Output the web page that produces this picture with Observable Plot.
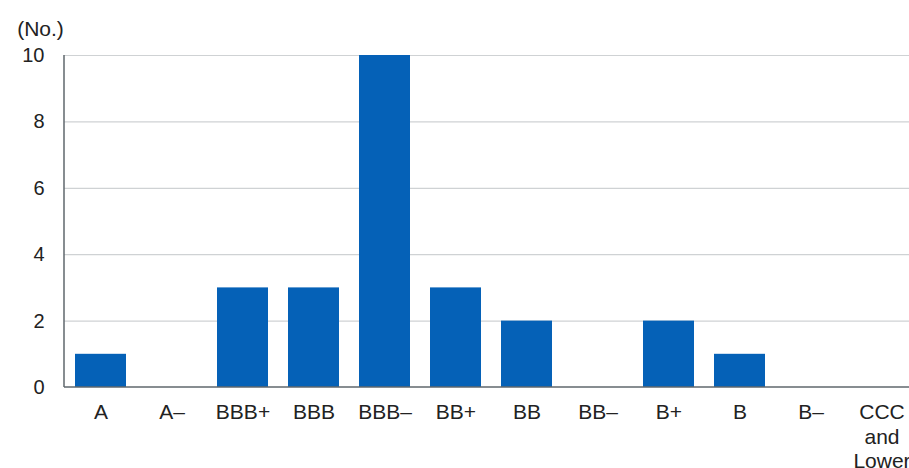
<!DOCTYPE html>
<html>
<head>
<meta charset="utf-8">
<script src="https://cdn.jsdelivr.net/npm/d3@7"></script>
<script src="https://cdn.jsdelivr.net/npm/@observablehq/plot@0.6"></script>
<style>
  html, body { margin: 0; padding: 0; background: #fff; overflow: hidden; }
  #chart svg { overflow: visible; display: block; }
</style>
</head>
<body>
<div id="chart"></div>
<script>
// Number of issuers by credit rating
const ratings = ["A", "A\u2013", "BBB+", "BBB", "BBB\u2013", "BB+", "BB", "BB\u2013", "B+", "B", "B\u2013", "CCC\nand\nLower"];
const counts  = [1, 0, 3, 3, 10, 3, 2, 0, 2, 1, 0, 0];
const yTicks  = [0, 2, 4, 6, 8, 10];
const unitLabel = ["(No.)"];

const rows = ratings.map((rating, i) => ({rating, count: counts[i]}));

const W = 909, H = 468;
const mLeft = 64, mTop = 55, mBottom = 81;

// Left and bottom axis lines, drawn from the frame dimensions
const axisLines = (index, scales, values, dims) => {
  const g = document.createElementNS("http://www.w3.org/2000/svg", "g");
  const x0 = dims.marginLeft, x1 = dims.width - dims.marginRight;
  const y0 = dims.marginTop, y1 = dims.height - dims.marginBottom;
  const mk = (a, b, c, d) => {
    const l = document.createElementNS("http://www.w3.org/2000/svg", "line");
    l.setAttribute("x1", a); l.setAttribute("y1", b);
    l.setAttribute("x2", c); l.setAttribute("y2", d);
    l.setAttribute("stroke", "#5f676c");
    l.setAttribute("stroke-width", 1.5);
    g.appendChild(l);
  };
  mk(x0, y0, x0, y1);
  mk(x0, y1, x1, y1);
  return g;
};

const chart = Plot.plot({
  width: W,
  height: H,
  marginLeft: mLeft,
  marginRight: 0,
  marginTop: mTop,
  marginBottom: mBottom,
  style: {fontFamily: "'Liberation Sans', Arial, sans-serif", fontSize: "20px", color: "#222", background: "#fff"},
  x: {domain: ratings, range: [62.5, 918.5], paddingInner: 0.285, paddingOuter: 0.1425, axis: null},
  y: {domain: [0, 10], axis: null},
  marks: [
    Plot.ruleY(yTicks.filter(d => d > 0), {stroke: "#cfd2d4", strokeWidth: 1.2}),
    Plot.barY(rows, {x: "rating", y: "count", fill: "#0561b7"}),
    axisLines,
    Plot.axisY({ticks: yTicks, tickSize: 0, tickPadding: 20, label: null, fontSize: 20}),
    Plot.text(ratings, {
      x: d => d,
      frameAnchor: "bottom",
      dy: 14,
      lineAnchor: "top",
      lineHeight: 1.17,
      fontSize: 21,
      fill: "#222"
    }),
    Plot.text(unitLabel, {
      frameAnchor: "top-left",
      text: d => d,
      dx: -24,
      dy: -34,
      textAnchor: "middle",
      fontSize: 21,
      fill: "#222"
    })
  ]
});

document.getElementById("chart").appendChild(chart);
</script>
</body>
</html>
